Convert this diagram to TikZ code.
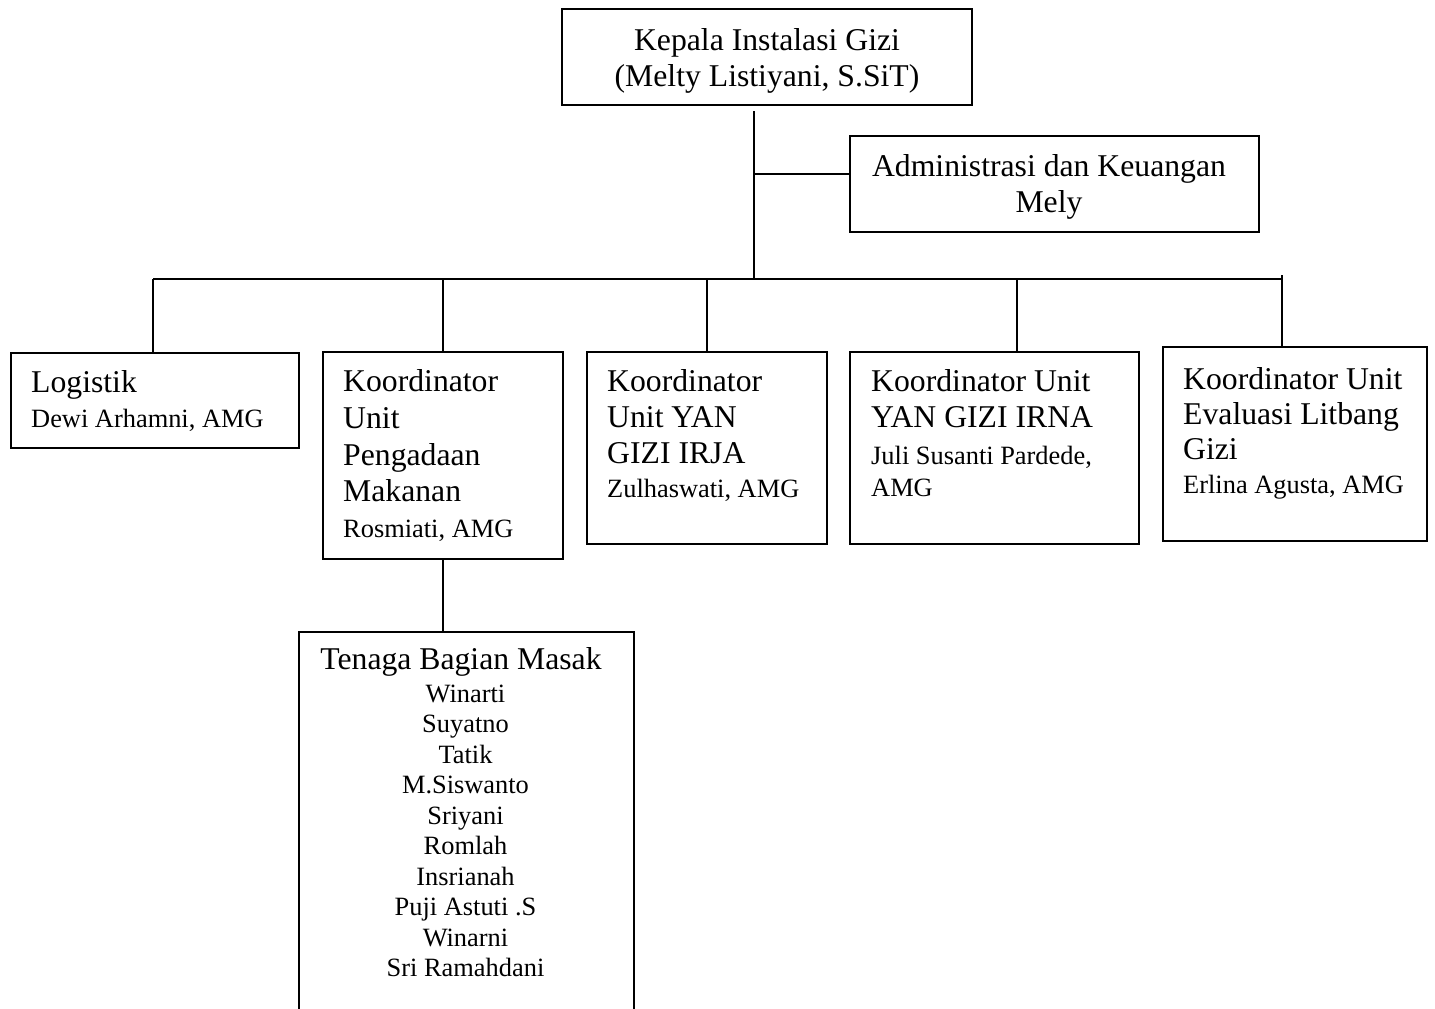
\documentclass[tikz,border=0pt]{standalone}
\usepackage{fontspec}
\setmainfont{Liberation Serif}
\tikzset{
  box/.style={draw, line width=1.8pt, inner sep=0pt, anchor=north west},
  conn/.style={line width=1.8pt},
  big/.style={font=\fontsize{31.7}{36}\selectfont, inner sep=0pt},
  small/.style={font=\fontsize{26.4}{30.5}\selectfont, inner sep=0pt}
}
\begin{document}
\begin{tikzpicture}[x=1pt,y=-1pt]
\useasboundingbox (0,0) rectangle (1435,1009);
\clip (0,0) rectangle (1435,1009);
\fill[white] (0,0) rectangle (1435,1009);

% boxes
\node[box, minimum width=410pt, minimum height=96pt] (kepala) at (561,8) {};
\node[box, minimum width=409pt, minimum height=96pt] (admin) at (849,135) {};
\node[box, minimum width=288pt, minimum height=95pt] (logistik) at (10,352) {};
\node[box, minimum width=240pt, minimum height=207pt] (pengadaan) at (322,351) {};
\node[box, minimum width=240pt, minimum height=192pt] (irja) at (586,351) {};
\node[box, minimum width=289pt, minimum height=192pt] (irna) at (849,351) {};
\node[box, minimum width=264pt, minimum height=194pt] (evaluasi) at (1162,346) {};
\node[box, minimum width=335pt, minimum height=382pt] (tenaga) at (298,631) {};

% texts
\node[big, anchor=base] (k1) at (767,50) {Kepala Instalasi Gizi};
\node[big, anchor=base] (k2) at (767,86) {(Melty Listiyani, S.SiT)};

\node[big, anchor=base] (a1) at (1049,176) {Administrasi dan Keuangan};
\node[big, anchor=base] (a2) at (1049,212) {Mely};

\node[big, anchor=base west] (l1) at (31,392) {Logistik};
\node[small, anchor=base west] (l2) at (31,427) {Dewi Arhamni, AMG};

\node[big, anchor=base west] (p1) at (343,391) {Koordinator};
\node[big, anchor=base west] (p2) at (343,428) {Unit};
\node[big, anchor=base west] (p3) at (343,465) {Pengadaan};
\node[big, anchor=base west] (p4) at (343,501) {Makanan};
\node[small, anchor=base west] (p5) at (343,537) {Rosmiati, AMG};

\node[big, anchor=base west] (j1) at (607,391) {Koordinator};
\node[big, anchor=base west] (j2) at (607,427) {Unit YAN};
\node[big, anchor=base west] (j3) at (607,463) {GIZI IRJA};
\node[small, anchor=base west] (j4) at (607,497) {Zulhaswati, AMG};

\node[big, anchor=base west] (n1) at (871,391) {Koordinator Unit};
\node[big, anchor=base west] (n2) at (871,427) {YAN GIZI IRNA};
\node[small, anchor=base west] (n3) at (871,464) {Juli Susanti Pardede,};
\node[small, anchor=base west] (n4) at (871,496) {AMG};

\node[big, anchor=base west] (e1) at (1183,389) {Koordinator Unit};
\node[big, anchor=base west] (e2) at (1183,424) {Evaluasi Litbang};
\node[big, anchor=base west] (e3) at (1183,459) {Gizi};
\node[small, anchor=base west] (e4) at (1183,493) {Erlina Agusta, AMG};

\node[big, anchor=base] (m0) at (461,669) {Tenaga Bagian Masak};
\foreach \nm [count=\i] in {Winarti,Suyatno,Tatik,M.Siswanto,Sriyani,Romlah,Insrianah,Puji Astuti .S,Winarni,Sri Ramahdani}
  \node[small, anchor=base] (m\i) at (465.5,{702+30.5*(\i-1)}) {\nm};

% connectors
\coordinate (trunktop) at (754,111);
\coordinate (admjoin) at (754,174);
\coordinate (bus) at (754,279);
\coordinate (busL) at (153,279);
\coordinate (busR) at (1282,279);
\coordinate (busRtop) at (1282,275);
\coordinate (irnadrop) at (1017,279);

\draw[conn] (trunktop) -- (bus);
\draw[conn] (admjoin) -- (admjoin -| admin.west);
\draw[conn] (busL) -- (busR);
\draw[conn] (busL) -- (busL |- logistik.north);
\draw[conn] (pengadaan.north |- bus) -- (pengadaan.north);
\draw[conn] (irja.north |- bus) -- (irja.north);
\draw[conn] (irnadrop) -- (irnadrop |- irna.north);
\draw[conn] (busRtop) -- (busRtop |- evaluasi.north);
\draw[conn] (pengadaan.south) -- (pengadaan.south |- tenaga.north);
\end{tikzpicture}
\end{document}
